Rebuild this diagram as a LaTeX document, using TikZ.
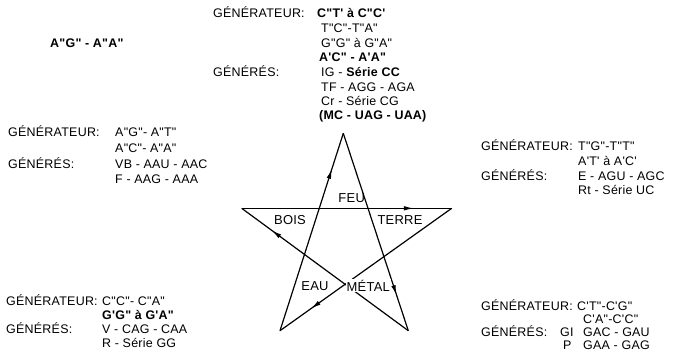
\documentclass[tikz,border=0pt]{standalone}
\usepackage{fontspec}
\setmainfont{Liberation Sans}[Ligatures=TeXOff,LetterSpace=2]
\usetikzlibrary{arrows.meta,decorations.markings}

\begin{document}
\begin{tikzpicture}[x=1bp,y=-1bp,>=Latex,
  txt/.style={anchor=base west,inner sep=0pt,font=\fontsize{12.5}{14}\selectfont},
  btxt/.style={txt,font=\fontsize{12.5}{14}\selectfont\bfseries},
  elem/.style={inner sep=1pt,font=\fontsize{13}{15}\selectfont},
  starline/.style={line width=1.2bp,postaction={decorate},
    decoration={markings,mark=at position 0.82 with {\arrow{Latex[length=10bp,width=4.5bp]}}}}]
\useasboundingbox (0,0) rectangle (680,358);
% top block
\node[txt] (tg) at (213,17.5) {GÉNÉRATEUR:};
\node[btxt] (tv1) at (317,17.5) {C"T' à C"C'};
\node[txt] (tv2) at (321,32.5) {T"C"-T"A"};
\node[txt] (tv3) at (321,47.5) {G"G" à G"A"};
\node[btxt] (tv4) at (319,61.5) {A'C" - A'A"};
\node[txt] (ts) at (213,76.5) {GÉNÉRÉS:};
\node[txt] (tv5) at (321,76.5) {IG - \textbf{Série CC}};
\node[txt] (tv6) at (321,91.5) {TF - AGG - AGA};
\node[txt] (tv7) at (321,105.5) {Cr - Série CG};
\node[btxt] (tv8) at (319,119.5) {(MC - UAG - UAA)};
\node[btxt] (aa) at (50,47.5) {A"G" - A"A"};
% left block
\node[txt] (lg) at (8,136.5) {GÉNÉRATEUR:};
\node[txt] (lv1) at (115,136.5) {A"G"- A"T"};
\node[txt] (lv2) at (115,152.5) {A"C"- A"A"};
\node[txt] (ls) at (8,168.5) {GÉNÉRÉS:};
\node[txt] (lv3) at (115,168.5) {VB - AAU - AAC};
\node[txt] (lv4) at (115,183.5) {F - AAG - AAA};
% right block
\node[txt] (rg) at (481,150.5) {GÉNÉRATEUR:};
\node[txt] (rv1) at (578,150.5) {T"G"-T"T"};
\node[txt] (rv2) at (578,165.5) {A'T' à A'C'};
\node[txt] (rs) at (481,180.5) {GÉNÉRÉS:};
\node[txt] (rv3) at (578,180.5) {E - AGU - AGC};
\node[txt] (rv4) at (578,194.5) {Rt - Série UC};
% bottom left block
\node[txt] (blg) at (6,305.5) {GÉNÉRATEUR:};
\node[txt] (blv1) at (102,305.5) {C"C"- C"A"};
\node[btxt] (blv2) at (102,319.5) {G'G" à G'A"};
\node[txt] (bls) at (6,333.5) {GÉNÉRÉS:};
\node[txt] (blv3) at (102,333.5) {V - CAG - CAA};
\node[txt] (blv4) at (102,347.5) {R - Série GG};
% bottom right block
\node[txt] (brg) at (481,310.5) {GÉNÉRATEUR:};
\node[txt] (brv1) at (577,310.5) {C'T"-C'G"};
\node[txt] (brv2) at (583,323.5) {C'A"-C'C"};
\node[txt] (brs) at (481,336.5) {GÉNÉRÉS:};
\node[txt] (brk1) at (560,336.5) {GI};
\node[txt] (brv3) at (583,336.5) {GAC - GAU};
\node[txt] (brk2) at (563,349.5) {P};
\node[txt] (brv4) at (583,349.5) {GAA - GAG};
% star
\coordinate (t) at (343.3,133.3);
\coordinate (l) at (241.7,208.3);
\coordinate (r) at (451.7,208.3);
\coordinate (bl) at (280,330.7);
\coordinate (br) at (408.3,330.7);
\draw[starline] (bl) -- (t);
\draw[starline] (t) -- (br);
\draw[starline] (br) -- (l);
\draw[starline] (l) -- (r);
\draw[starline] (r) -- (bl);
\node[elem] (feu) at (351.7,198.3) {FEU};
\node[elem] (bois) at (290,220) {BOIS};
\node[elem] (terre) at (400,220) {TERRE};
\node[elem] (eau) at (315,285.7) {EAU};
\node[elem,fill=white] (metal) at (368.3,285.7) {MÉTAL};
\end{tikzpicture}
\end{document}
